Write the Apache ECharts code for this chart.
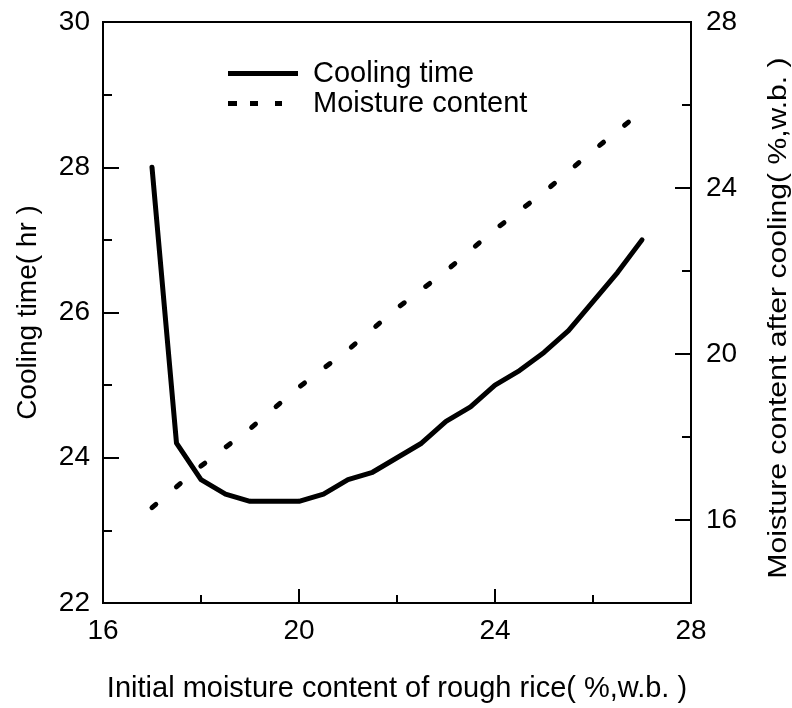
<!DOCTYPE html>
<html>
<head>
<meta charset="utf-8">
<script src="https://cdn.jsdelivr.net/npm/echarts@6/dist/echarts.min.js"></script>
<style>
html,body{margin:0;padding:0;background:#fff;}
#chart{width:792px;height:708px;}
</style>
</head>
<body>
<div id="chart"></div>
<script>
// Cooling time series (x = initial moisture content, y = hours)
var coolingX = [17, 17.5, 18, 18.5, 19, 19.5, 20, 20.5, 21, 21.5, 22, 22.5, 23, 23.5, 24, 24.5, 25, 25.5, 26, 26.5, 27];
var coolingTime = [28.0, 24.2, 23.7, 23.5, 23.4, 23.4, 23.4, 23.5, 23.7, 23.8, 24.0, 24.2, 24.5, 24.7, 25.0, 25.2, 25.45, 25.75, 26.15, 26.55, 27.0];
// Moisture content after cooling
var moistureX = [17, 18, 19, 20, 21, 22, 23, 24, 25, 26, 27];
var moistureAfter = [16.3, 17.3, 18.2, 19.2, 20.1, 21.1, 22.0, 23.0, 23.9, 24.9, 25.85];
// Right-axis tick values
var rightMajorTicks = [16, 20, 24, 28];
var rightMinorTicks = [18, 22, 26];
// Text
var xTitle = 'Initial moisture content of rough rice( %,w.b. )';
var yLeftTitle = 'Cooling time( hr )';
var yRightTitle = 'Moisture content after cooling( %,w.b. )';

var FONT = 'Liberation Sans, Arial, sans-serif';
var chart = echarts.init(document.getElementById('chart'), null, {renderer: 'canvas'});

function pairs(xs, ys) { return xs.map(function (x, i) { return [x, ys[i]]; }); }

var solidIcon = 'path://M0,0 L70,0 L70,5 L0,5 Z';
var dashIcon = 'path://M0,0 L9,0 L9,5 L0,5 Z M22,0 L30,0 L30,5 L22,5 Z M47,0 L54,0 L54,5 L47,5 Z M70,0';

chart.setOption({
  animation: false,
  backgroundColor: '#fff',
  grid: {left: 103, right: 101, top: 22, bottom: 103, show: true, borderColor: '#000', borderWidth: 2, backgroundColor: 'transparent'},
  legend: {
    orient: 'vertical', left: 228, top: 59, padding: 0, itemWidth: 70, itemHeight: 5, itemGap: 1,
    textStyle: {fontFamily: FONT, fontSize: 29, lineHeight: 29, color: '#000', padding: [0, 0, 0, 10]},
    itemStyle: {color: '#000'},
    data: [{name: 'Cooling time', icon: solidIcon}, {name: 'Moisture content', icon: dashIcon}]
  },
  graphic: [{
    type: 'text', x: 779, y: 318, rotation: Math.PI / 2, scaleX: 1.16, scaleY: 1,
    style: {text: yRightTitle, font: '26px ' + FONT, fill: '#000', align: 'center', verticalAlign: 'middle'}
  }],
  xAxis: {
    type: 'value', min: 16, max: 28, interval: 4,
    name: xTitle, nameLocation: 'middle', nameGap: 71,
    nameTextStyle: {fontFamily: FONT, fontSize: 29, color: '#000'},
    axisLine: {show: true, lineStyle: {color: '#000', width: 2}},
    axisTick: {show: true, inside: true, length: 14, lineStyle: {color: '#000', width: 2}},
    minorTick: {show: true, splitNumber: 2, length: 8, lineStyle: {color: '#000', width: 2}},
    axisLabel: {fontFamily: FONT, fontSize: 28, color: '#000', margin: 14},
    splitLine: {show: false}, minorSplitLine: {show: false}
  },
  yAxis: [{
    type: 'value', min: 22, max: 30, interval: 2, position: 'left',
    name: yLeftTitle, nameLocation: 'middle', nameGap: 61, nameRotate: 90,
    nameTextStyle: {fontFamily: FONT, fontSize: 28, color: '#000'},
    axisLine: {show: true, lineStyle: {color: '#000', width: 2}},
    axisTick: {show: true, inside: true, length: 16, lineStyle: {color: '#000', width: 2}},
    minorTick: {show: true, splitNumber: 2, length: 9, lineStyle: {color: '#000', width: 2}},
    axisLabel: {fontFamily: FONT, fontSize: 28, color: '#000', margin: 13},
    splitLine: {show: false}, minorSplitLine: {show: false}
  }, {
    type: 'value', min: 14, max: 28, position: 'right',
    axisLine: {show: true, lineStyle: {color: '#000', width: 2}},
    axisTick: {show: true, inside: true, length: 16, customValues: rightMajorTicks, lineStyle: {color: '#000', width: 2}},
    axisLabel: {fontFamily: FONT, fontSize: 28, color: '#000', margin: 15, customValues: rightMajorTicks},
    splitLine: {show: false}
  }, {
    type: 'value', min: 14, max: 28, position: 'right',
    axisLine: {show: false},
    axisTick: {show: true, inside: true, length: 9, customValues: rightMinorTicks, lineStyle: {color: '#000', width: 2}},
    axisLabel: {show: false},
    splitLine: {show: false}
  }],
  series: [{
    name: 'Cooling time', type: 'line', yAxisIndex: 0, symbol: 'none',
    data: pairs(coolingX, coolingTime),
    lineStyle: {color: '#000', width: 5, cap: 'round', join: 'round'},
    itemStyle: {color: '#000'}
  }, {
    name: 'Moisture content', type: 'line', yAxisIndex: 1, symbol: 'none',
    data: pairs(moistureX, moistureAfter),
    lineStyle: {color: '#000', width: 5, type: [5, 27], cap: 'round'},
    itemStyle: {color: '#000'}
  }]
});
</script>
</body>
</html>
